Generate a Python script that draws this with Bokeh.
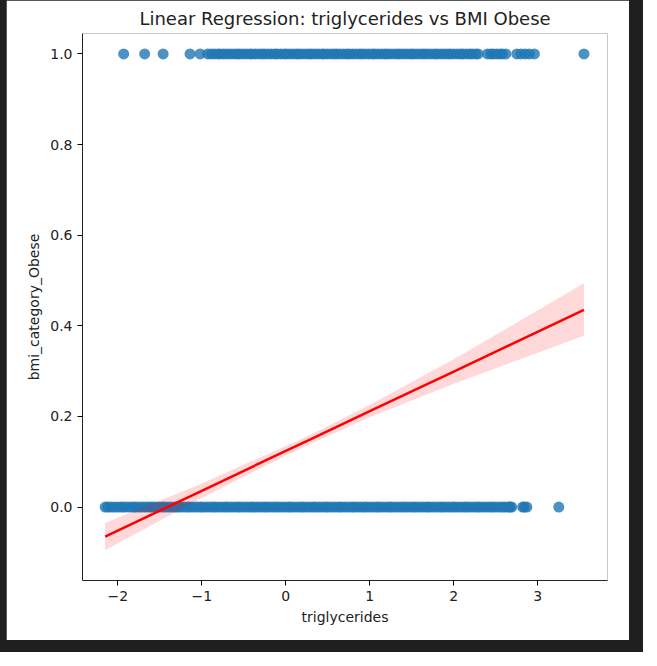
from bokeh.plotting import figure
from bokeh.layouts import column
from bokeh.models import Range1d, FixedTicker
from bokeh.embed import file_html
from bokeh.resources import INLINE

# points at bmi_category_Obese == 1
obese_x = [-1.93, -1.68, -1.46, -1.14, -1.02, -0.93, -0.85, -0.78, -0.7, -0.62, -0.55, -0.47,
	-0.4, -0.32, -0.25, -0.17, -0.1, -0.02, 0.05, 0.13, 0.2, 0.28, 0.35, 0.43, 0.5, 0.58,
	0.65, 0.73, 0.8, 0.88, 0.95, 1.03, 1.1, 1.18, 1.25, 1.33, 1.4, 1.48, 1.55, 1.63, 1.7,
	1.78, 1.85, 1.93, 2.0, 2.08, 2.15, 2.22, 2.29, 2.4, 2.47, 2.55, 2.62, 2.75, 2.85, 2.9, 2.96, 3.55,
	-0.89, -0.81, -0.74, -0.66, -0.58, -0.51, -0.43, -0.36, -0.28, -0.21, -0.13, -0.06, 0.01,
	0.09, 0.16, 0.24, 0.31, 0.39, 0.46, 0.54, 0.61, 0.69, 0.76, 0.84, 0.91, 0.99, 1.06, 1.14,
	1.21, 1.29, 1.36, 1.44, 1.51, 1.59, 1.66, 1.74, 1.81, 1.89, 1.96, 2.04, 2.11, 2.19, 2.26,
	2.44, 2.51, 2.58, 2.8]
# points at bmi_category_Obese == 0
other_x = [-2.15, -2.08, -2.0, -1.93, -1.85, -1.78, -1.7, -1.62, -1.55, -1.47, -1.4, -1.32,
	-1.25, -1.17, -1.1, -1.02, -0.95, -0.87, -0.8, -0.72, -0.65, -0.57, -0.5, -0.42, -0.35,
	-0.27, -0.2, -0.12, -0.05, 0.03, 0.1, 0.18, 0.25, 0.33, 0.4, 0.48, 0.55, 0.63, 0.7, 0.78,
	0.85, 0.93, 1.0, 1.08, 1.15, 1.23, 1.3, 1.38, 1.45, 1.53, 1.6, 1.68, 1.75, 1.83, 1.9,
	1.98, 2.05, 2.13, 2.2, 2.28, 2.35, 2.43, 2.5, 2.58, 2.65, 2.69, 2.82, 2.87, 3.25,
	-2.12, -2.04, -1.96, -1.89, -1.81, -1.74, -1.66, -1.59, -1.51, -1.44, -1.36, -1.29,
	-1.21, -1.14, -1.06, -0.99, -0.91, -0.84, -0.76, -0.69, -0.61, -0.54, -0.46, -0.39,
	-0.31, -0.24, -0.16, -0.09, -0.01, 0.06, 0.14, 0.21, 0.29, 0.36, 0.44, 0.51, 0.59,
	0.66, 0.74, 0.81, 0.89, 0.96, 1.04, 1.11, 1.19, 1.26, 1.34, 1.41, 1.49, 1.56, 1.64,
	1.71, 1.79, 1.86, 1.94, 2.01, 2.09, 2.16, 2.24, 2.31, 2.39, 2.46, 2.54, 2.61, 2.67, 2.84]

# regression fit and confidence band
fit_x = [-2.15, -1.0, 0.0, 0.3, 1.0, 2.0, 3.55]
fit_y = [-0.065, 0.036, 0.124, 0.15, 0.212, 0.299, 0.435]
band_lo = [-0.095, 0.02, 0.113, 0.14, 0.198, 0.272, 0.378]
band_hi = [-0.035, 0.052, 0.135, 0.16, 0.226, 0.326, 0.494]

xticks = [-2, -1, 0, 1, 2, 3]
yticks = [0.0, 0.2, 0.4, 0.6, 0.8, 1.0]

p = figure(width=623, height=640, output_backend="svg", toolbar_location=None,
	title="Linear Regression: triglycerides vs BMI Obese",
	x_axis_label="triglycerides", y_axis_label="bmi_category_Obese")
p.min_border_left = 76
p.min_border_right = 22
p.min_border_top = 10
p.min_border_bottom = 60
p.x_range = Range1d(-2.42, 3.83)
p.y_range = Range1d(-0.162, 1.045)
p.outline_line_color = None
p.xgrid.grid_line_color = None
p.ygrid.grid_line_color = None

p.title.align = "center"
p.title.text_font = "DejaVu Sans"
p.title.text_font_size = "13.5pt"
p.title.text_font_style = "normal"
p.title.text_color = "#222222"
p.title.offset = 40
p.title.standoff = 10

for ax in (p.xaxis, p.yaxis):
	ax.axis_label_text_font = "DejaVu Sans"
	ax.axis_label_text_font_size = "10.5pt"
	ax.axis_label_text_font_style = "normal"
	ax.axis_label_text_color = "#222222"
	ax.major_label_text_font = "DejaVu Sans"
	ax.major_label_text_font_size = "10.5pt"
	ax.major_label_text_color = "#222222"
	ax.minor_tick_out = 0
	ax.major_tick_in = 0
	ax.major_tick_out = 5
	ax.axis_line_color = "#222222"
p.xaxis.ticker = FixedTicker(ticks=xticks)
p.yaxis.ticker = FixedTicker(ticks=yticks)
p.xaxis.major_label_overrides = {t: ("\u2212%d" % -t if t < 0 else str(t)) for t in xticks}
p.yaxis.major_label_overrides = {t: "%.1f" % t for t in yticks}

p.scatter(obese_x, [1.0] * len(obese_x), size=11, color="#1f77b4", alpha=0.8, line_color=None)
p.scatter(other_x, [0.0] * len(other_x), size=11, color="#1f77b4", alpha=0.8, line_color=None)
p.varea(x=fit_x, y1=band_lo, y2=band_hi, fill_color="red", fill_alpha=0.15)
p.line(fit_x, fit_y, line_color="red", line_width=2.5)

page = column(p, styles={"background-color": "#1f1f1f", "padding": "0px 14px 12px 6px"})
open("out.html", "w").write(file_html(page, INLINE))
